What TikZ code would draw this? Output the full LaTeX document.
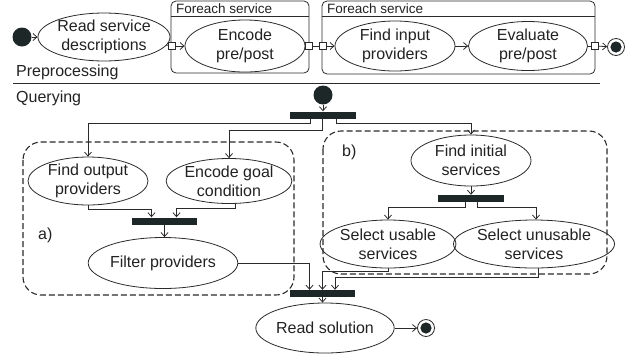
\documentclass[tikz,border=0pt]{standalone}
\usepackage{fontspec}
\setmainfont{Liberation Sans}
\usetikzlibrary{arrows.meta,shapes.geometric,calc}
\definecolor{ln}{HTML}{2A2A2A}
\definecolor{barc}{HTML}{1E2727}
\definecolor{txt}{HTML}{222222}
\begin{document}
\begin{tikzpicture}[x=1pt,y=-1pt,
  act/.style={ellipse, draw=ln, line width=0.8pt, inner sep=0pt, align=center,
    font=\fontsize{16}{19}\selectfont, text=txt, minimum width=120pt, minimum height=50pt},
  barnode/.style={rectangle, fill=barc, inner sep=0pt, minimum width=66pt, minimum height=7pt},
  pinbox/.style={rectangle, draw=ln, fill=white, inner sep=0pt, minimum size=7pt, line width=0.7pt},
  startn/.style={circle, fill=barc, inner sep=0pt, minimum size=19pt},
  endn/.style={circle, draw=ln, fill=white, line width=0.8pt, minimum size=17pt, inner sep=0pt,
    path picture={\fill[barc] (path picture bounding box.center) circle (5.6pt);}},
  arr/.style={-{Straight Barb[length=4pt,width=7pt]}, draw=ln, line width=0.8pt},
  plain/.style={draw=ln, line width=0.8pt},
  region/.style={draw=ln, line width=1.1pt, dash pattern=on 6pt off 3pt, rounded corners=18pt},
  frame/.style={draw=ln, line width=0.8pt, rounded corners=5pt},
  lbl/.style={font=\fontsize{16}{19}\selectfont, text=txt, inner sep=0pt},
  ttl/.style={font=\fontsize{13.5}{16}\selectfont, text=txt, inner sep=0pt}
]
\useasboundingbox (0,0) rectangle (634,360);

% ---------- Preprocessing ----------
\draw[frame] (171,1) rectangle (309,73);
\draw[plain] (171,16) -- (309,16);
\draw[frame] (322,1) rectangle (595,74);
\draw[plain] (322,16) -- (595,16);
\node[ttl, anchor=base west] (t1) at (176,13) {Foreach service};
\node[ttl, anchor=base west] (t2) at (327,13) {Foreach service};

\node[startn] (s1) at (22,37) {};
\node[act, minimum width=117pt, minimum height=47pt] (rsd) at (104,37) {Read service\\descriptions};
\node[act, minimum height=52pt] (enc) at (245,46) {Encode\\pre/post};
\node[act] (fip) at (395,46) {Find input\\providers};
\node[act, minimum width=119pt, minimum height=49pt] (evp) at (528,46) {Evaluate\\pre/post};
\node[endn] (e1) at (616,47) {};

\node[pinbox] (p1) at (171.5,46) {};
\node[pinbox] (p2) at (309,46) {};
\node[pinbox] (p3) at (322.5,46) {};
\node[pinbox] (p4) at (594.5,46) {};

\draw[arr] (s1) -- (rsd.west |- s1);
\draw[plain] (rsd) -- (p1);
\draw[arr] (p1) -- (enc);
\draw[plain] (enc) -- (p2);
\draw[plain] (p2) -- (p3);
\draw[arr] (p3) -- (fip);
\draw[arr] (fip) -- (evp);
\draw[plain] (evp) -- (p4);
\draw[arr] (p4) -- (e1);

\node[lbl, anchor=base west] (pre) at (16,76) {Preprocessing};
\draw[plain] (13,83) -- (600,83);
\node[lbl, anchor=base west] (qry) at (16,102) {Querying};

% ---------- Querying ----------
\draw[region] (23,142) rectangle (294,295);
\draw[region] (323,131) rectangle (607,274);
\node[lbl, anchor=west] (la) at (38,235) {a)};
\node[lbl, anchor=west] (lb) at (342,152) {b)};

\node[startn] (s2) at (323,95) {};
\node[barnode] (b1) at (323,115) {};
\node[act, minimum height=45pt] (fop) at (88,181) {Find output\\providers};
\node[act, minimum width=119pt, minimum height=45pt] (egc) at (229,181) {Encode goal\\condition};
\node[barnode, minimum width=65pt] (ba) at (164.5,221) {};
\node[act, minimum height=51pt] (flt) at (163,263) {Filter providers};

\node[act, minimum height=51pt] (fis) at (471,160.5) {Find initial\\services};
\node[barnode] (bb) at (471,198.5) {};
\node[act, minimum height=48pt] (sus) at (388,244) {Select usable\\services};
\node[act, minimum width=136pt, minimum height=48pt] (sun) at (534,244) {Select unusable\\services};

\node[barnode, minimum width=65pt] (bc) at (322.5,293.5) {};
\node[act, minimum width=116pt] (rs) at (325,328) {Read solution};
\node[endn] (e2) at (426,328) {};

\draw[arr] (s2) -- (b1.north);
\draw[arr] ([xshift=-13pt]b1.south) -- ++(0,5) -| (fop.north);
\draw[arr] ([xshift=-1pt]b1.south) -- ++(0,12) -| (egc.north);
\draw[arr] ([xshift=13pt]b1.south) -- ++(0,5) -| (fis.north);

\draw[arr] (fop.south) -- ++(0,4) -| ([xshift=-13pt]ba.north);
\draw[arr] ([xshift=6pt]egc.south) -- ++(0,4) -| ([xshift=12pt]ba.north);
\draw[arr] (ba.south) -- (flt.north -| ba.south);

\draw[arr] (fis.south) -- (bb.north);
\draw[arr] ([xshift=-6pt]bb.south) -- ++(0,5) -| (sus.north);
\draw[arr] ([xshift=6pt]bb.south) -- ++(0,5) -| ([xshift=2pt]sun.north);

\draw[arr] (flt.east) -| ([xshift=-13pt]bc.north);
\draw[arr] (sus.south) -- ++(0,3) -| (bc.north);
\draw[arr] ([xshift=4pt]sun.south) -- ++(0,9) -| ([xshift=12.5pt]bc.north);
\draw[arr] (bc.south) -- (rs.north -| bc.south);
\draw[arr] (rs.east) -- (e2.west);
\end{tikzpicture}
\end{document}
